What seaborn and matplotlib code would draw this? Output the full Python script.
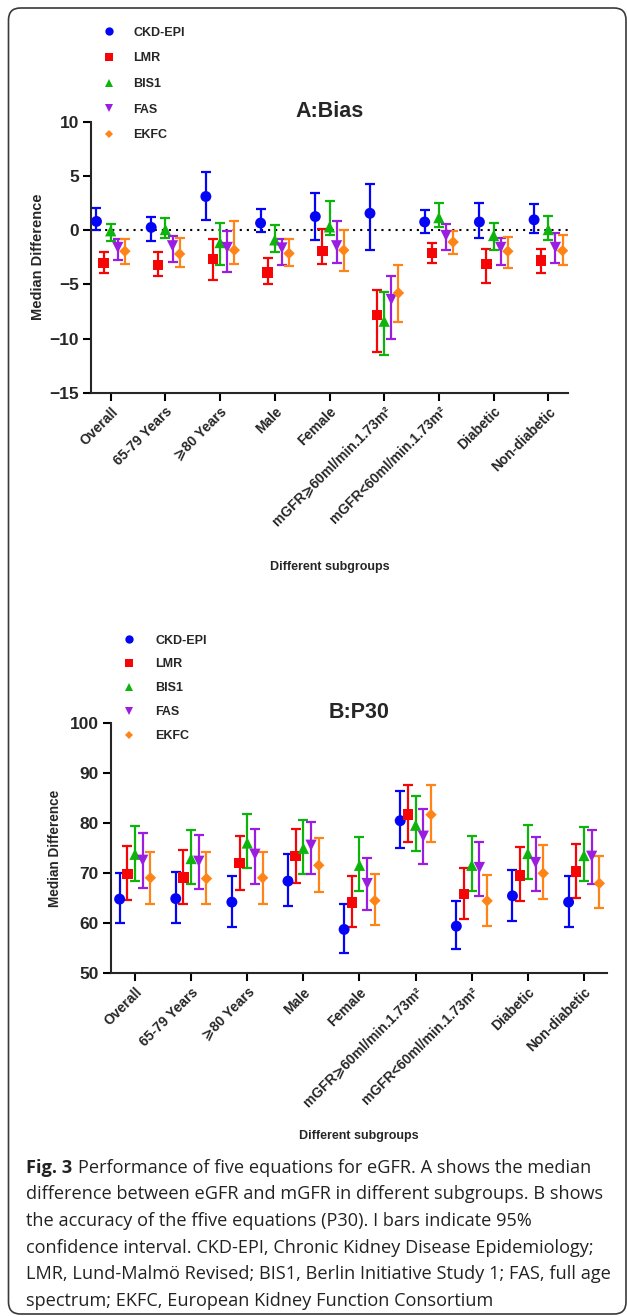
"""
Fig. 3: bias (median difference) and P30 accuracy of five eGFR equations
across subgroups, with 95% CI whiskers.
"""

import numpy as np
import pandas as pd
import matplotlib
matplotlib.use("Agg")
import matplotlib.pyplot as plt
import seaborn as sns
from matplotlib.lines import Line2D
from matplotlib.patches import FancyBboxPatch

# --- data -----------------------------------------------------------------
subgroups = ["Overall", "65-79 Years", "\u2a7e80 Years", "Male", "Female",
             "mGFR\u2a7e60ml/min.1.73m\u00b2", "mGFR<60ml/min.1.73m\u00b2",
             "Diabetic", "Non-diabetic"]
equations = ["CKD-EPI", "LMR", "BIS1", "FAS", "EKFC"]

# rows follow `equations`, columns follow `subgroups`
bias_median = np.array([
    [0.8, 0.25, 3.1, 0.65, 1.25, 1.55, 0.75, 0.75, 0.95],
    [-3.05, -3.2, -2.65, -3.9, -1.95, -7.85, -2.1, -3.15, -2.8],
    [-0.06, 0.05, -1.15, -0.9, 0.3, -8.4, 1.15, -0.5, 0.05],
    [-1.6, -1.45, -1.6, -1.65, -1.45, -6.4, -0.5, -1.6, -1.6],
    [-1.95, -2.2, -1.85, -2.15, -1.85, -5.8, -1.1, -1.95, -1.9],
])
bias_lower = np.array([
    [0.0, -1.0, 0.9, -0.2, -0.9, -1.8, -0.25, -0.75, -0.3],
    [-3.97, -4.2, -4.6, -4.95, -3.1, -11.25, -3.0, -4.85, -3.95],
    [-1.0, -0.75, -3.2, -2.05, -0.45, -11.5, 0.3, -1.8, -0.9],
    [-2.8, -2.9, -3.9, -3.2, -3.0, -10.0, -1.8, -3.25, -3.0],
    [-3.1, -3.4, -3.1, -3.3, -3.8, -8.5, -2.2, -3.5, -3.2],
])
bias_upper = np.array([
    [2.0, 1.25, 5.4, 1.95, 3.4, 4.25, 1.9, 2.5, 2.4],
    [-2.05, -2.05, -0.8, -2.6, 0.1, -5.5, -1.2, -1.75, -1.75],
    [0.6, 1.15, 0.7, 0.5, 2.65, -5.7, 2.5, 0.7, 1.3],
    [-0.85, -0.5, -0.05, -0.8, 0.8, -4.2, 0.55, -0.75, -0.25],
    [-0.85, -0.75, 0.8, -0.85, 0.05, -3.25, -0.1, -0.6, -0.45],
])

p30_median = np.array([
    [64.8, 64.9, 64.2, 68.4, 58.75, 80.45, 59.4, 65.45, 64.2],
    [69.8, 69.1, 72.0, 73.35, 64.1, 81.7, 65.8, 69.5, 70.3],
    [73.75, 72.9, 76.0, 74.95, 71.55, 79.55, 71.55, 73.9, 73.5],
    [72.55, 72.35, 73.75, 75.55, 67.9, 77.35, 71.1, 72.1, 73.35],
    [69.05, 68.9, 69.05, 71.55, 64.5, 81.65, 64.45, 69.95, 67.95],
])
p30_lower = np.array([
    [59.95, 60.1, 59.3, 63.4, 54.0, 74.95, 54.8, 60.5, 59.3],
    [64.6, 63.9, 66.7, 68.05, 59.15, 76.15, 60.9, 64.4, 65.05],
    [68.45, 67.8, 71.0, 69.8, 66.45, 74.4, 66.45, 68.85, 68.45],
    [67.1, 66.85, 67.9, 69.8, 62.6, 71.9, 65.5, 66.45, 67.8],
    [63.8, 63.8, 63.8, 66.25, 59.6, 76.15, 59.5, 64.8, 62.95],
])
p30_upper = np.array([
    [70.0, 70.2, 69.5, 73.75, 63.8, 86.3, 64.45, 70.65, 69.5],
    [75.35, 74.55, 77.45, 78.85, 69.4, 87.55, 71.1, 75.1, 75.7],
    [79.4, 78.5, 81.85, 80.65, 77.2, 85.45, 77.35, 79.65, 79.2],
    [77.9, 77.6, 78.8, 80.1, 73.1, 82.85, 76.15, 77.2, 78.65],
    [74.3, 74.15, 74.3, 76.95, 69.8, 87.55, 69.65, 75.5, 73.35],
])

bias_ticks = [-15, -10, -5, 0, 5, 10]
p30_ticks = [50, 60, 70, 80, 90, 100]

caption_lines = [
    "difference between eGFR and mGFR in different subgroups. B shows",
    "the accuracy of the ffive equations (P30). I bars indicate 95%",
    "confidence interval. CKD-EPI, Chronic Kidney Disease Epidemiology;",
    "LMR, Lund-Malm\u00f6 Revised; BIS1, Berlin Initiative Study 1; FAS, full age",
    "spectrum; EKFC, European Kidney Function Consortium",
]

# --- style ----------------------------------------------------------------
colors = {"CKD-EPI": "#0505f5", "LMR": "#f50505", "BIS1": "#0cb40c",
          "FAS": "#9b1ee0", "EKFC": "#ff8418"}
markers = {"CKD-EPI": "o", "LMR": "s", "BIS1": "^", "FAS": "v", "EKFC": "D"}
sizes = {"CKD-EPI": 62, "LMR": 56, "BIS1": 66, "FAS": 66, "EKFC": 34}

sns.set_style("ticks")
plt.rcParams["font.family"] = ["Liberation Sans", "DejaVu Sans"]
plt.rcParams["axes.linewidth"] = 1.5

W, H = 627, 1316
fig = plt.figure(figsize=(W / 100, H / 100), dpi=100)


def long_frame(med, lo, hi, step):
    rows = []
    for i, eq in enumerate(equations):
        for j, grp in enumerate(subgroups):
            rows.append({"equation": eq, "subgroup": grp,
                         "pos": j + (i - 2) * step,
                         "median": med[i, j], "lower": lo[i, j], "upper": hi[i, j]})
    return pd.DataFrame(rows)


def draw_panel(ax, df, ticks, xlim, title, legend_anchor, legend_pad, legend_spacing):
    for eq in equations:
        sub = df[df["equation"] == eq]
        ax.errorbar(sub["pos"], sub["median"],
                    yerr=[sub["median"] - sub["lower"], sub["upper"] - sub["median"]],
                    fmt="none", ecolor=colors[eq], elinewidth=1.6,
                    capsize=3.3, capthick=1.6, zorder=2)
        sns.scatterplot(data=sub, x="pos", y="median", marker=markers[eq],
                        color=colors[eq], s=sizes[eq], edgecolor="none",
                        linewidth=0, ax=ax, zorder=3, legend=False)

    ax.set_xlim(*xlim)
    ax.set_ylim(ticks[0], ticks[-1])
    ax.set_yticks(ticks)
    ax.set_xticks(range(len(subgroups)))
    ax.set_xticklabels(subgroups, rotation=45, ha="right", rotation_mode="anchor",
                       fontsize=10, fontweight="bold")
    for lab in ax.get_yticklabels():
        lab.set_fontsize(12.5)
        lab.set_fontweight("bold")
    ax.tick_params(direction="out", length=5.5, width=1.5, color="black", pad=3)
    sns.despine(ax=ax)

    ax.set_xlabel("Different subgroups", fontsize=9, fontweight="bold")
    ax.set_title(title, fontsize=15.5, fontweight="bold")

    handles = [Line2D([], [], ls="none", marker=markers[eq], color=colors[eq],
                      markersize=6 if eq != "EKFC" else 4.5, markeredgewidth=0)
               for eq in equations]
    fig.legend(handles, equations, loc="upper left",
               bbox_to_anchor=legend_anchor, frameon=False,
               prop={"weight": "bold", "size": 9}, borderpad=0,
               borderaxespad=0, handlelength=1.0,
               handletextpad=legend_pad, labelspacing=legend_spacing)


# panel A: bias
ax_a = fig.add_axes([91 / W, 1 - 392.7 / H, 477 / W, 271 / H])
ax_a.axhline(0, color="black", lw=1.5, ls=(0, (1, 2.4)), zorder=1)
draw_panel(ax_a, long_frame(bias_median, bias_lower, bias_upper, 0.13),
           bias_ticks, (-0.36, 8.36), "A:Bias",
           (102.5 / W, 1 - 26.5 / H), 1.45, 1.1)
ax_a.title.set_y(1 + (121.7 - 77) / 271)
ax_a.title.set_va("center")
ax_a.xaxis.set_label_coords(0.5, -0.62)
ax_a.set_ylabel("Median Difference", fontsize=10.5, fontweight="bold")
ax_a.yaxis.set_label_coords(-0.097, 0.5)

# panel B: P30
ax_b = fig.add_axes([110.7 / W, 1 - 973.3 / H, 496 / W, 250.6 / H])
draw_panel(ax_b, long_frame(p30_median, p30_lower, p30_upper, 0.137),
           p30_ticks, (-0.433, 8.405), "B:P30",
           (122.5 / W, 1 - 634.5 / H), 1.64, 0.95)
ax_b.title.set_y(1 + (722.7 - 680) / 250.6)
ax_b.title.set_va("center")
ax_b.xaxis.set_label_coords(0.5, -0.625)
ax_b.set_ylabel("Median Difference", fontsize=9.8, fontweight="bold")
ax_b.yaxis.set_label_coords(-0.099, 0.5)

# frame around the figure
frame = FancyBboxPatch((8.5 / 100, 2 / 100), (626 - 8.5) / 100, (1308 - 2) / 100,
                       boxstyle="round,pad=0,rounding_size=0.12",
                       transform=fig.dpi_scale_trans, fill=False,
                       edgecolor="#3a3a3a", lw=1.2)
fig.patches.append(frame)

# caption
cap_font = ["Open Sans", "DejaVu Sans"]
cap_size = 13.1
base0 = 1172.7
pitch = 26.67
renderer = fig.canvas.get_renderer()
fig_lbl = fig.text(26 / W, 1 - base0 / H, "Fig. 3", family=cap_font,
                   fontweight="bold", fontsize=cap_size, va="baseline",
                   color="#222222")
bb = fig_lbl.get_window_extent(renderer)
fig.text(bb.x1 / W + 6 / W, 1 - base0 / H,
         "Performance of five equations for eGFR. A shows the median",
         family=cap_font, fontsize=cap_size, va="baseline", color="#222222")
for k, line in enumerate(caption_lines, start=1):
    fig.text(26 / W, 1 - (base0 + k * pitch) / H, line, family=cap_font,
             fontsize=cap_size, va="baseline", color="#222222")

fig.savefig("out.png", dpi=100)
